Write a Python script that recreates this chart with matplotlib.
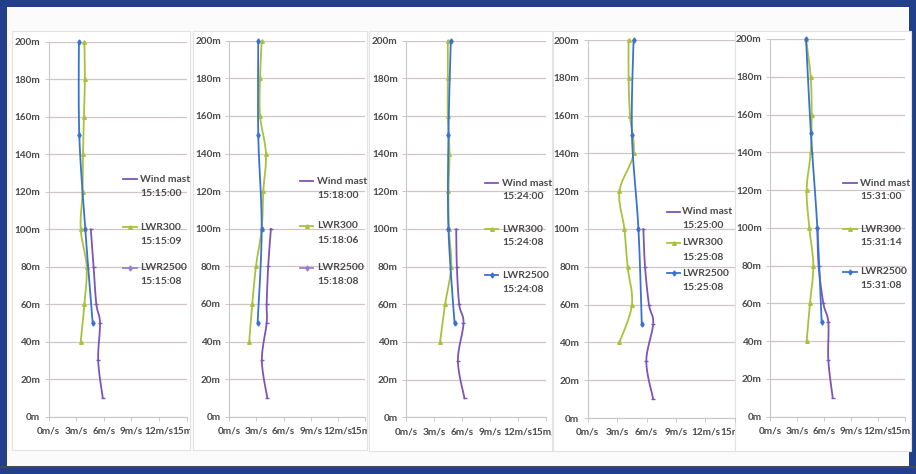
import numpy as np
import matplotlib
matplotlib.use("Agg")
import matplotlib.pyplot as plt
from matplotlib.patches import Rectangle
from matplotlib.lines import Line2D
from matplotlib.transforms import Bbox, TransformedBbox, IdentityTransform

plt.rcParams['font.family'] = ['Lato', 'DejaVu Sans']
plt.rcParams['font.weight'] = 'bold'

W, H = 916, 474

# measurement heights (m) of each instrument
mast_heights = [10, 30, 50, 60, 80, 100]
lwr300_heights = [40, 60, 80, 100, 120, 140, 160, 180, 200]
lwr2500_heights = [50, 100, 150, 200]

# wind speeds (m/s), one row per snapshot
mast_speed = [
    [5.9, 5.4, 5.6, 5.2, 4.9, 4.6],
    [4.2, 3.6, 4.13, 4.13, 4.3, 4.6],
    [6.27, 5.56, 6.16, 5.7, 5.45, 5.38],
    [6.68, 5.98, 6.68, 6.25, 5.85, 5.68],
    [6.97, 6.48, 6.48, 5.93, 5.4, 5.26],
]
lwr300_speed = [
    [3.5, 3.9, 4.15, 3.5, 3.7, 3.75, 3.85, 3.95, 3.9],
    [2.2, 2.54, 2.95, 3.58, 3.76, 4.05, 3.4, 3.4, 3.58],
    [3.65, 4.19, 4.84, 4.6, 4.55, 4.66, 4.48, 4.48, 4.48],
    [3.25, 4.52, 4.08, 3.75, 3.25, 4.68, 4.32, 4.18, 4.18],
    [4.07, 4.44, 4.81, 4.37, 4.07, 4.52, 4.63, 4.52, 4.0],
]
lwr2500_speed = [
    [4.8, 4.0, 3.35, 3.3],
    [3.13, 3.58, 3.2, 3.2],
    [5.2, 4.55, 4.55, 4.8],
    [5.52, 5.18, 4.52, 4.68],
    [5.74, 5.26, 4.55, 4.0],
]

mast_times = ["15:15:00", "15:18:00", "15:24:00", "15:25:00", "15:31:00"]
lwr300_times = ["15:15:09", "15:18:06", "15:24:08", "15:25:08", "15:31:14"]
lwr2500_times = ["15:15:08", "15:18:08", "15:24:08", "15:25:08", "15:31:08"]

series_names = ["Wind mast", "LWR300", "LWR2500"]

height_ticks = [0, 20, 40, 60, 80, 100, 120, 140, 160, 180, 200]
height_labels = [f"{h}m" for h in height_ticks]
speed_ticks = [0, 3, 6, 9, 12, 15]
speed_labels = [f"{s}m/s" for s in speed_ticks]

PURPLE = "#7d55b8"
GREEN = "#a9c23c"
BLUE = "#3a72d2"
LAVENDER = "#9a7fcf"
GRID = "#d2c4c4"
TEXT = "#4a4a4a"
FRAME = "#223f8c"

# layout of the five chart boxes, in pixels from the top-left corner
panel_boxes = [(12, 31, 190, 450), (193, 31, 367, 450), (369, 31, 552, 451),
               (553, 31, 735, 451), (735, 31, 911, 451)]
plot_areas = [(48.5, 186.5, 41.7, 416.7), (229.3, 365, 40.7, 416.7),
              (406, 546, 40.7, 417.3), (587.5, 735, 40.0, 418.0),
              (770, 905, 39.0, 416.7)]
legend_x = [(123, 137, 140), (300, 313, 317), (485, 498, 502),
            (667, 680, 682), (843, 857, 860)]
legend_y = [(179, 227, 268), (181, 226, 268), (183, 229, 275),
            (212, 243, 273), (183, 229, 272)]
legend_colors = [(PURPLE, GREEN, LAVENDER), (PURPLE, GREEN, LAVENDER),
                 (PURPLE, GREEN, BLUE), (PURPLE, GREEN, BLUE),
                 (PURPLE, GREEN, BLUE)]
markers = ["_", "^", "d"]
FS = 7.2


def fx(px):
    return px / W


def fy(py):
    return 1 - py / H


def smooth(xs, ys, n=16):
    """Bezier smoothing through the points (Excel-style smoothed line)."""
    p = np.column_stack([xs, ys]).astype(float)
    if len(p) < 3:
        return p[:, 0], p[:, 1]
    ext = np.vstack([p[0], p, p[-1]])
    out = []
    t = np.linspace(0, 1, n)[:, None]
    for i in range(1, len(ext) - 2):
        p0, p1, p2, p3 = ext[i - 1], ext[i], ext[i + 1], ext[i + 2]
        b1 = p1 + (p2 - p0) / 6
        b2 = p2 - (p3 - p1) / 6
        seg = ((1 - t) ** 3) * p1 + 3 * ((1 - t) ** 2) * t * b1 + 3 * (1 - t) * t ** 2 * b2 + t ** 3 * p2
        out.append(seg if i == 1 else seg[1:])
    s = np.vstack(out)
    return s[:, 0], s[:, 1]


fig = plt.figure(figsize=(W / 100, H / 100), dpi=100, facecolor=FRAME)

# inner page
fig.add_artist(Rectangle((fx(7), fy(466)), fx(902), 459 / H, transform=fig.transFigure,
                         facecolor="#fbfbfb", edgecolor="none", zorder=-3))

for k in range(5):
    l, t, r, b = panel_boxes[k]
    fig.add_artist(Rectangle((fx(l), fy(b)), fx(r - l), (b - t) / H,
                             transform=fig.transFigure, facecolor="white",
                             edgecolor="#e2e2e2", lw=0.8, zorder=-2))

    x0, x1, ytop, ybot = plot_areas[k]
    ax = fig.add_axes([fx(x0), fy(ybot), fx(x1 - x0), (ybot - ytop) / H])
    ax.set_zorder(1)
    ax.set_facecolor("none")
    ax.set_xlim(0, 15)
    ax.set_ylim(0, 200)
    ax.set_yticks(height_ticks)
    ax.set_yticklabels(height_labels)
    ax.set_xticks(speed_ticks)
    ax.set_xticklabels(speed_labels)
    ax.grid(axis="y", color=GRID, lw=0.9)
    ax.set_axisbelow(True)
    for side in ("top", "right"):
        ax.spines[side].set_visible(False)
    for side in ("left", "bottom"):
        ax.spines[side].set_color("#c8c8c8")
        ax.spines[side].set_linewidth(0.8)
    ax.tick_params(axis="both", direction="out", length=3, width=0.7, color="#c8c8c8",
                   labelsize=FS, labelcolor=TEXT, pad=3)
    ax.tick_params(axis="x", pad=4)

    clip = TransformedBbox(Bbox([[l, H - b], [r, H - t]]), IdentityTransform())
    for lab in ax.get_xticklabels():
        lab.set_clip_box(clip)
        lab.set_clip_on(True)

    data = [(mast_speed[k], mast_heights, PURPLE),
            (lwr300_speed[k], lwr300_heights, GREEN),
            (lwr2500_speed[k], lwr2500_heights, BLUE)]
    for (xs, ys, c), m in zip(data, markers):
        sx, sy = smooth(xs, ys)
        ax.plot(sx, sy, color=c, lw=1.3, solid_capstyle="round", clip_on=False)
        ax.plot(xs, ys, ls="none", marker=m, ms=3.5 if m == "_" else 2.6,
                color=c, mew=1.0, clip_on=False)

    # legend
    lx0, lx1, tx = legend_x[k]
    times = [mast_times[k], lwr300_times[k], lwr2500_times[k]]
    for j in range(3):
        yy = legend_y[k][j]
        col = legend_colors[k][j]
        fig.add_artist(Line2D([fx(lx0), fx(lx1)], [fy(yy), fy(yy)], transform=fig.transFigure,
                              color=col, lw=1.3, zorder=3))
        if j > 0:
            fig.add_artist(Line2D([fx((lx0 + lx1) / 2)], [fy(yy)], transform=fig.transFigure,
                                  color=col, marker=markers[j], ms=2.6, ls="none", zorder=3))
        fig.text(fx(tx), fy(yy), series_names[j], fontsize=FS + 0.3, color=TEXT,
                 ha="left", va="center", zorder=3)
        fig.text(fx(tx), fy(yy + 14), times[j], fontsize=FS + 0.3, color=TEXT,
                 ha="left", va="center", zorder=3)

# dark rule along the bottom of the page
fig.add_artist(Line2D([0, 1], [fy(466.5), fy(466.5)], transform=fig.transFigure,
                      color="#4a4a4a", lw=1.2))

fig.savefig("out.png", dpi=100, facecolor=FRAME)
